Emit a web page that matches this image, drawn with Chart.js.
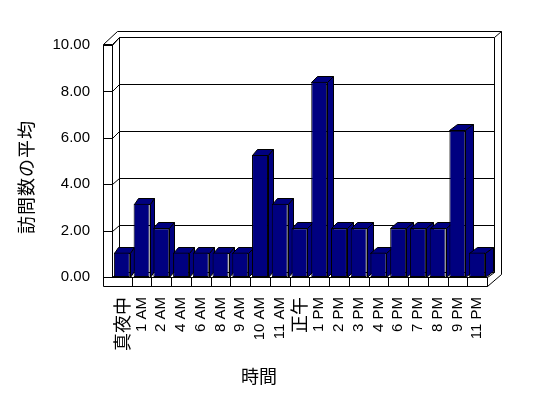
<!DOCTYPE html>
<html>
<head>
<meta charset="utf-8">
<script src="https://cdn.jsdelivr.net/npm/chart.js@4"></script>
<style>
  html, body { margin: 0; background: #fff; }
  canvas { display: block; }
</style>
</head>
<body>
<canvas id="visitsChart" width="548" height="398"></canvas>
<script>
const hours = ['真夜中', '1 AM', '2 AM', '4 AM', '6 AM', '8 AM', '9 AM', '10 AM', '11 AM', '正午',
    '1 PM', '2 PM', '3 PM', '4 PM', '6 PM', '7 PM', '8 PM', '9 PM', '11 PM'];
const avgVisits = [1, 3, 2, 1, 1, 1, 1, 5, 3, 2, 8, 2, 2, 1, 2, 2, 2, 6, 1];
const yTicks = [0, 2, 4, 6, 8, 10];
const xTitle = '時間';
const yTitle = '訪問数の平均';

const latinFont = 'Liberation Sans';
const cjkFont = 'Noto Sans CJK JP';
const navy = '#000080';

const px = v => Math.round(v) + 0.5;

function line(ctx, x1, y1, x2, y2) {
    ctx.beginPath();
    ctx.moveTo(px(x1), px(y1));
    ctx.lineTo(px(x2), px(y2));
    ctx.stroke();
}

function face(ctx, pts) {
    ctx.beginPath();
    pts.forEach(([x, y], i) => i ? ctx.lineTo(px(x), px(y)) : ctx.moveTo(px(x), px(y)));
    ctx.closePath();
    ctx.fill();
    ctx.stroke();
}

// Excel-like 3D box: walls, floor, gridlines and depth of the columns
const box3d = {
    id: "box3d",
    beforeDatasetsDraw(chart) {
        const { ctx, chartArea: a, scales } = chart;
        const L = a.left, R = a.right, B = a.bottom, T = a.top;
        const backL = L + 7, backR = R + 7, backB = B - 5;
        const outerL = L - 9, outerR = R + 14, floorB = B + 9;
        // back wall is a bit further away, so its grid is slightly stretched
        const backY = v => backB - (B - scales.y.getPixelForValue(v)) * 235 / 232;
        const backT = backY(10), outerT = backT - 6;

        ctx.save();
        ctx.strokeStyle = "#000";
        ctx.lineWidth = 1;

        // left wall
        line(ctx, outerL, T - 1, outerL, floorB);
        line(ctx, L, T - 1, L, B);
        line(ctx, outerL, T - 1, L, T - 1);
        line(ctx, outerL, T - 1, backL - 2, outerT);
        line(ctx, L, T - 1, backL, backT);

        // back wall
        line(ctx, backL - 2, outerT, outerR, outerT);
        line(ctx, outerR, outerT, outerR, backB + 2);
        line(ctx, backR, backT, outerR, outerT);
        line(ctx, backL, backT, backL, backB);
        line(ctx, backR, backT, backR, backB);
        line(ctx, backL, backB, backR, backB);

        // floor
        line(ctx, outerL, B, R, B);
        line(ctx, outerL, floorB, R, floorB);
        line(ctx, R, B, R, floorB);
        line(ctx, backL, backB, L, B);
        line(ctx, backR, backB, R, B);
        line(ctx, outerR, backB + 2, R, floorB);

        const x = scales.x;
        const slot = (R - L) / hours.length;
        hours.forEach((h, i) => {
            const bx = x.getPixelForValue(i) + slot / 2;
            line(ctx, bx, B, bx, floorB);
        });

        // gridlines on back wall plus ticks across the left wall
        yTicks.forEach(v => {
            const fy = scales.y.getPixelForValue(v);
            const by = backY(v);
            line(ctx, backL, by, backR, by);
            line(ctx, outerL, fy, L, fy);
            line(ctx, L, fy, backL, by);
        });

        // column tops and sides
        ctx.fillStyle = navy;
        chart.getDatasetMeta(0).data.forEach(bar => {
            const { x: cx, y: top, base, width } = bar.getProps(["x", "y", "base", "width"], true);
            const x0 = cx - width / 2, x1 = cx + width / 2;
            const dx = 4 + 3.7 * (cx - L) / (R - L), dy = -6;
            face(ctx, [[x0, top], [x1, top], [x1 + dx, top + dy], [x0 + dx, top + dy]]);
            face(ctx, [[x1, top], [x1 + dx, top + dy], [x1 + dx, base + dy], [x1, base]]);
        });
        ctx.restore();
    }
};

const axisTitles = {
    id: "axisTitles",
    afterDraw(chart) {
        const { ctx, chartArea: a } = chart;
        ctx.save();
        ctx.fillStyle = "#000";
        ctx.font = `18px "${cjkFont}"`;
        ctx.textAlign = "center";
        ctx.textBaseline = "middle";
        ctx.fillText(xTitle, a.left + 147, 376);
        ctx.translate(26, a.top + 132);
        ctx.rotate(-Math.PI / 2);
        ctx.letterSpacing = "1px";
        ctx.fillText(yTitle, 0, 0);
        ctx.restore();
    }
};

const isCjk = s => /[^\x00-\x7f]/.test(String(s || ""));

new Chart(document.getElementById("visitsChart"), {
    type: "bar",
    data: {
        labels: hours,
        datasets: [
            {
                data: avgVisits,
                yAxisID: "yBars",
                backgroundColor: navy,
                borderColor: "#000",
                borderWidth: 1,
                borderSkipped: false,
                categoryPercentage: 1,
                barPercentage: 0.81
            }
        ]
    },
    options: {
        responsive: false,
        animation: false,
        layout: { padding: { top: 45, right: 61, left: 0, bottom: 0 } },
        plugins: {
            legend: { display: false },
            tooltip: { enabled: false }
        },
        scales: {
            x: {
                grid: { display: false, drawTicks: false },
                border: { display: false },
                ticks: {
                    autoSkip: false,
                    minRotation: 90,
                    maxRotation: 90,
                    padding: 20,
                    color: "#000",
                    font: (ctx) => isCjk(ctx.tick && ctx.tick.label)
                        ? { family: cjkFont, size: 18 }
                        : { family: latinFont, size: 15 }
                },
                afterFit: (scale) => { scale.height = 121; }
            },
            y: {
                min: 0,
                max: 10,
                afterBuildTicks: (scale) => { scale.ticks = yTicks.map(v => ({ value: v })); },
                grid: { display: false, drawTicks: false },
                border: { display: false },
                ticks: {
                    padding: 22,
                    color: "#000",
                    font: { family: latinFont, size: 15 },
                    callback: (value) => value.toFixed(2)
                },
                afterFit: (scale) => { scale.width = 112; }
            },
            // columns sit in front of the axis plane, so they read a little taller
            yBars: {
                axis: "y",
                position: "left",
                display: false,
                min: 0,
                max: 9.5
            }
        }
    },
    plugins: [box3d, axisTitles]
});
</script>
</body>
</html>
